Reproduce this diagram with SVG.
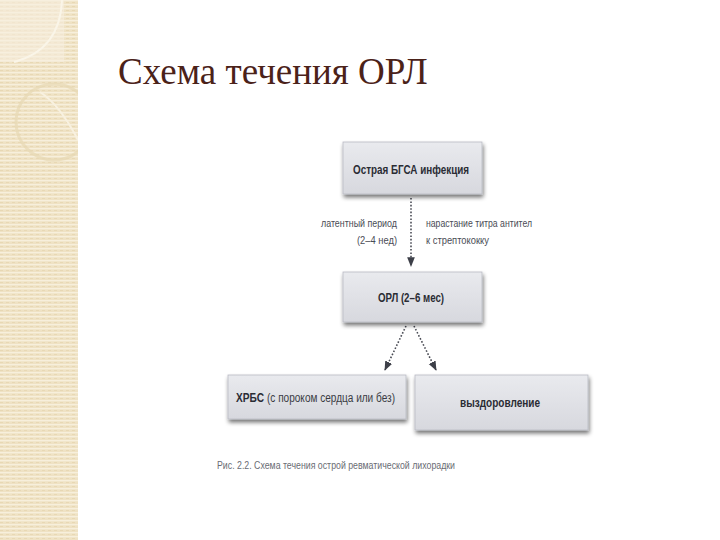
<svg xmlns="http://www.w3.org/2000/svg" width="720" height="540" viewBox="0 0 720 540">
<defs>
<pattern id="stripes" width="6" height="4" patternUnits="userSpaceOnUse">
<rect width="6" height="4" fill="#efe2c4"/>
<rect y="0" width="6" height="1.3" fill="#f7efdc"/>
<rect x="0" y="2" width="3" height="1" fill="#e8d8b4"/>
</pattern>
<clipPath id="bandclip"><rect x="0" y="0" width="78" height="540"/></clipPath>
<linearGradient id="boxg" x1="0" y1="0" x2="0" y2="1">
<stop offset="0" stop-color="#e9eaee"/>
<stop offset="1" stop-color="#d7d8de"/>
</linearGradient>
<filter id="sh" x="-10%" y="-20%" width="120%" height="150%">
<feGaussianBlur in="SourceAlpha" stdDeviation="2.2"/>
<feOffset dx="1" dy="3" result="b"/>
<feComponentTransfer><feFuncA type="linear" slope="0.55"/></feComponentTransfer>
<feMerge><feMergeNode/><feMergeNode in="SourceGraphic"/></feMerge>
</filter>
<marker id="ah" viewBox="0 0 10 10" refX="9" refY="5" markerWidth="6" markerHeight="6" orient="auto">
<path d="M0,1 L10,5 L0,9 Z" fill="#3d3f48"/>
</marker>
<style>
.box{fill:url(#boxg);stroke:#b9bbc3;stroke-width:0.8;filter:url(#sh)}
.bt{font-family:"Liberation Sans Narrow","Liberation Sans",Arial,sans-serif;font-weight:bold;font-size:12px;fill:#2a2c34}
.lt{font-family:"Liberation Sans Narrow","Liberation Sans",Arial,sans-serif;font-size:11px;fill:#4a4c55}
.con{stroke:#4a4c55;stroke-width:1.6;stroke-dasharray:1.6 1.8;fill:none}
</style>
</defs>
<rect width="720" height="540" fill="#ffffff"/>
<g id="band" clip-path="url(#bandclip)">
<rect x="0" y="0" width="78" height="540" fill="url(#stripes)"/>
<rect x="0" y="0" width="64" height="62" fill="#f6efdf" opacity="0.6"/>
<path d="M62,0 Q60,50 14,62" fill="none" stroke="#faf5e8" stroke-width="2"/>
<circle cx="54" cy="122" r="38" fill="none" stroke="#e7d9b3" stroke-width="3" opacity="0.7"/>
<path d="M40,92 Q60,105 78,140" fill="none" stroke="#f8f1e0" stroke-width="2"/>
</g>
<text x="118" y="84" font-family="Liberation Serif,'Times New Roman',serif" font-size="37" fill="#4b2219">Схема течения ОРЛ</text>
<g id="connectors">
<line class="con" x1="411" y1="198" x2="411" y2="266" marker-end="url(#ah)"/>
<line class="con" x1="406" y1="326" x2="385" y2="370" marker-end="url(#ah)"/>
<line class="con" x1="414" y1="326" x2="436" y2="370" marker-end="url(#ah)"/>
</g>
<g id="n1">
<rect class="box" x="343" y="142" width="139" height="52"/>
<text class="bt" x="411" y="174" text-anchor="middle" textLength="116" lengthAdjust="spacingAndGlyphs">Острая БГСА инфекция</text>
</g>
<g id="label-left">
<text class="lt" x="397" y="227" text-anchor="end" textLength="76" lengthAdjust="spacingAndGlyphs">латентный период</text>
<text class="lt" x="397" y="244" text-anchor="end" textLength="40" lengthAdjust="spacingAndGlyphs">(2–4 нед)</text>
</g>
<g id="label-right">
<text class="lt" x="426" y="227" textLength="106" lengthAdjust="spacingAndGlyphs">нарастание титра антител</text>
<text class="lt" x="426" y="244" textLength="63" lengthAdjust="spacingAndGlyphs">к стрептококку</text>
</g>
<g id="n2">
<rect class="box" x="343" y="272" width="139" height="50"/>
<text class="bt" x="411" y="302" text-anchor="middle" textLength="66" lengthAdjust="spacingAndGlyphs">ОРЛ (2–6 мес)</text>
</g>
<g id="n3">
<rect class="box" x="228" y="375" width="178" height="44"/>
<text class="bt" x="236" y="402" textLength="28" lengthAdjust="spacingAndGlyphs">ХРБС</text>
<text x="267" y="402" textLength="128" lengthAdjust="spacingAndGlyphs" font-family="'Liberation Sans Narrow','Liberation Sans',Arial,sans-serif" font-size="12" fill="#3a3c44">(с пороком сердца или без)</text>
</g>
<g id="n4">
<rect class="box" x="415" y="375" width="173" height="55"/>
<text class="bt" x="500" y="407" text-anchor="middle" textLength="80" lengthAdjust="spacingAndGlyphs">выздоровление</text>
</g>
<text x="217" y="469" font-family="'Liberation Sans Narrow','Liberation Sans',Arial,sans-serif" font-size="11" fill="#6a6c74" textLength="238" lengthAdjust="spacingAndGlyphs">Рис. 2.2. Схема течения острой ревматической лихорадки</text>
</svg>
